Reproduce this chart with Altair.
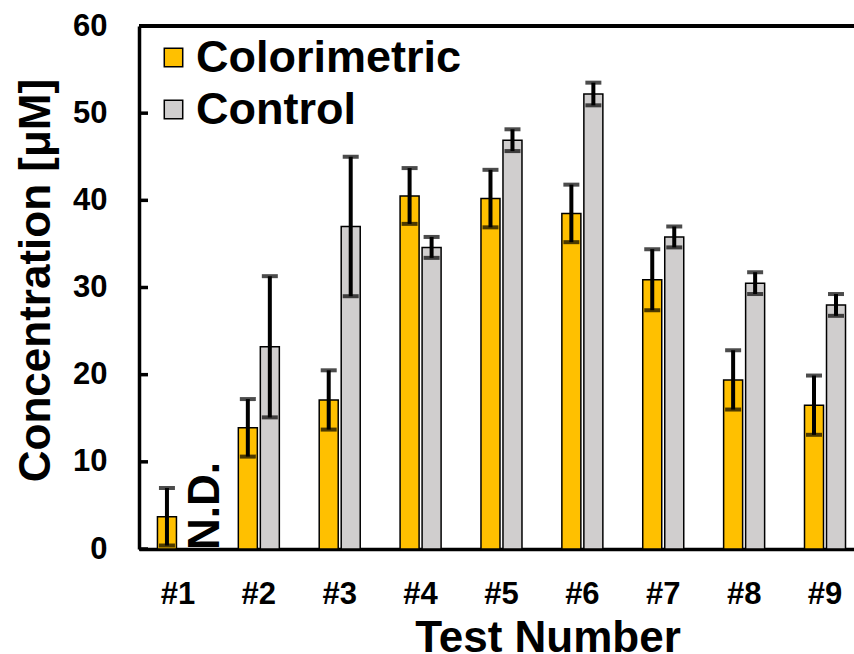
import altair as alt
import pandas as pd

tests = ["#1", "#2", "#3", "#4", "#5", "#6", "#7", "#8", "#9"]
series_names = ["Colorimetric", "Control"]
colorimetric = [3.7, 13.9, 17.1, 40.5, 40.2, 38.5, 30.9, 19.4, 16.5]
colorimetric_err = [3.3, 3.3, 3.4, 3.2, 3.3, 3.3, 3.5, 3.4, 3.4]
control = [None, 23.2, 37.0, 34.6, 46.9, 52.2, 35.8, 30.5, 28.0]
control_err = [None, 8.1, 8.0, 1.2, 1.25, 1.3, 1.2, 1.25, 1.25]
y_ticks = [0, 10, 20, 30, 40, 50, 60]
nd_label = "N.D."

rows = []
for i, t in enumerate(tests):
    for s, vals, errs in ((series_names[0], colorimetric, colorimetric_err),
                          (series_names[1], control, control_err)):
        v, e = vals[i], errs[i]
        if v is None:
            continue
        rows.append({"test": t, "series": s, "value": v, "lo": v - e, "hi": v + e})
df = pd.DataFrame(rows)
nd_df = pd.DataFrame([{"test": tests[0], "series": series_names[1], "value": 0, "label": nd_label}])
tick_df = pd.DataFrame({"v": y_ticks})

FONT = "Liberation Sans"
W, H = 715, 523

xscale = alt.Scale(domain=tests, paddingInner=0.456, paddingOuter=0.148, align=0.708, round=False)
yscale = alt.Scale(domain=[0, 60], nice=False, zero=True)
oscale = alt.Scale(domain=series_names, paddingInner=0.136, paddingOuter=0.068, round=False)

x = alt.X("test:N", scale=xscale, sort=tests,
          axis=alt.Axis(title="Test Number", labelAngle=0, ticks=False,
                        labelFont=FONT, labelFontSize=31, labelFontWeight="bold",
                        labelColor="black", labelBaseline="alphabetic", labelPadding=54,
                        domainColor="black", domainWidth=3.5,
                        titleFont=FONT, titleFontSize=44, titleFontWeight="bold",
                        titleColor="black", titleX=408.5, titleY=102,
                        titleBaseline="alphabetic", titleAlign="center"))
y = alt.Y("value:Q", scale=yscale,
          axis=alt.Axis(title="Concentration [μM]", values=y_ticks, ticks=False, grid=False,
                        labelFont=FONT, labelFontSize=31, labelFontWeight="bold",
                        labelColor="black", labelPadding=32,
                        domainColor="black", domainWidth=3.5,
                        titleFont=FONT, titleFontSize=44, titleFontWeight="bold",
                        titleColor="black", titleAngle=270, titleX=-103, titleY=254,
                        titleBaseline="middle", titleAlign="center"))
xo = alt.XOffset("series:N", scale=oscale, sort=series_names)

bars = alt.Chart(df).mark_bar(stroke="black", strokeWidth=1.5).encode(
    x=x, y=y, xOffset=xo,
    color=alt.Color("series:N", sort=series_names,
                    scale=alt.Scale(domain=series_names, range=["#FFC000", "#D0CECE"]),
                    legend=alt.Legend(title=None, orient="none", legendX=12, legendY=9,
                                      symbolType="square", symbolSize=340,
                                      symbolStrokeColor="black", symbolStrokeWidth=1.5,
                                      labelFont=FONT, labelFontSize=45, labelFontWeight="bold",
                                      labelColor="black", labelOffset=0, rowPadding=6,
                                      padding=0, labelLimit=400))
)

err = alt.Chart(df).mark_rule(color="black", strokeWidth=4).encode(
    x=alt.X("test:N", scale=xscale, sort=tests), xOffset=xo,
    y=alt.Y("lo:Q", scale=yscale), y2="hi:Q"
)
cap_hi = alt.Chart(df).mark_tick(color="black", thickness=4, size=16, orient="horizontal").encode(
    x=alt.X("test:N", scale=xscale, sort=tests), xOffset=xo,
    y=alt.Y("hi:Q", scale=yscale)
)
cap_lo = alt.Chart(df).mark_tick(color="black", thickness=4, size=16, orient="horizontal").encode(
    x=alt.X("test:N", scale=xscale, sort=tests), xOffset=xo,
    y=alt.Y("lo:Q", scale=yscale)
)

nd = alt.Chart(nd_df).mark_text(angle=270, align="left", baseline="alphabetic",
                                font=FONT, fontSize=44, fontWeight="bold", color="black",
                                dx=-1, dy=30).encode(
    x=alt.X("test:N", scale=xscale, sort=tests), xOffset=xo,
    y=alt.Y("value:Q", scale=yscale), text="label:N"
)

ticks = alt.Chart(tick_df).mark_rule(color="black", strokeWidth=3.5).encode(
    x=alt.value(0), x2=alt.value(9), y=alt.Y("v:Q", scale=yscale)
)
top_border = alt.Chart(tick_df).mark_rule(color="black", strokeWidth=3.5).encode(
    x=alt.value(0), x2=alt.value(W + 5), y=alt.value(0)
)

chart = alt.layer(bars, err, cap_hi, cap_lo, nd, ticks, top_border).properties(
    width=W, height=H,
    autosize=alt.AutoSizeParams(type="none"),
    padding={"left": 139, "top": 26, "right": 0, "bottom": 105},
    background="white",
).configure_view(stroke=None)

chart.save("out.html", embed_options={"renderer": "svg", "actions": False})
